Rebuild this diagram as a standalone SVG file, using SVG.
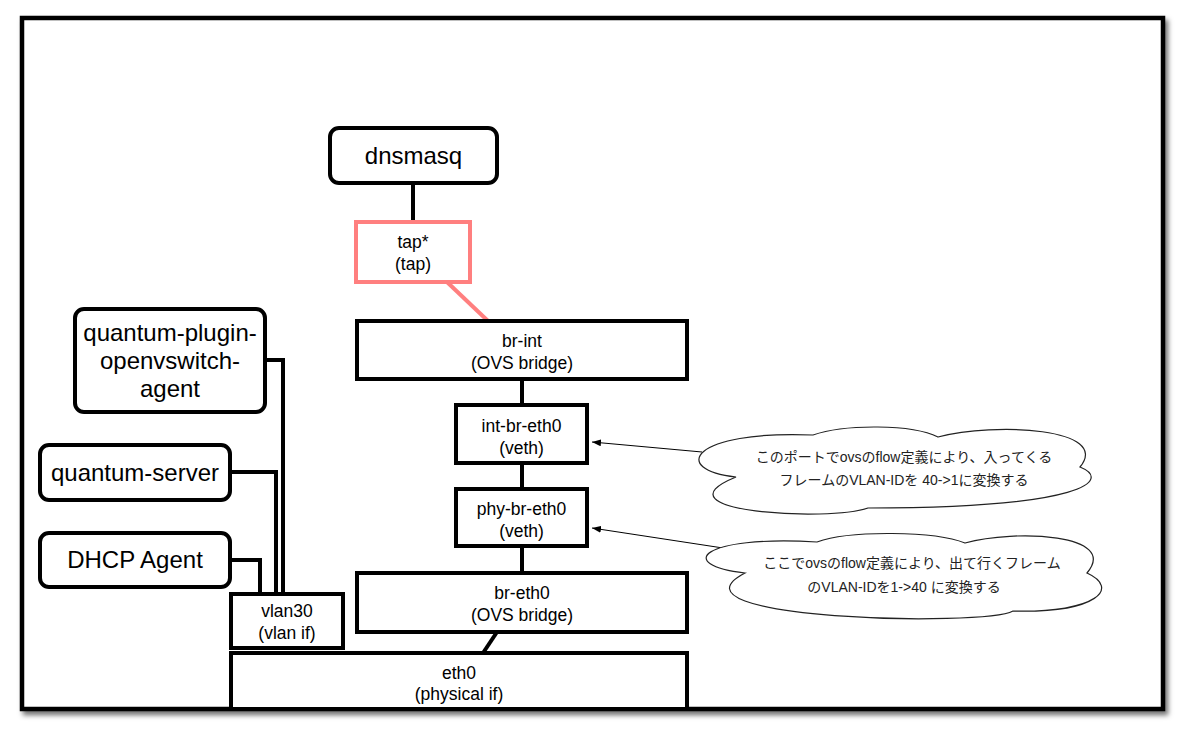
<svg xmlns="http://www.w3.org/2000/svg" width="1185" height="737" viewBox="0 0 1185 737">
<defs>
<filter id="shadow" x="-5%" y="-5%" width="110%" height="110%">
<feDropShadow dx="3" dy="4" stdDeviation="2.5" flood-color="#000" flood-opacity="0.55"/>
</filter>
<marker id="arrow" markerUnits="userSpaceOnUse" markerWidth="10" markerHeight="8" refX="9" refY="3.5" orient="auto">
<path d="M0,0 L9,3.5 L0,7 z" fill="#000"/>
</marker>
</defs>
<style>
.box{fill:#fff;stroke:#000;stroke-width:4}
.tap{fill:#fff;stroke:#ff7f7f;stroke-width:4}
.big{font-family:"Liberation Sans",Arial,sans-serif;font-size:24px;fill:#000;text-anchor:middle}
.sm{font-family:"Liberation Sans",Arial,sans-serif;font-size:17.5px;fill:#000;text-anchor:middle}
.jp{font-family:"Liberation Sans","Noto Sans CJK JP",sans-serif;font-size:14px;fill:#222;text-anchor:middle}
.conn{fill:none;stroke:#000;stroke-width:4}
.pink{fill:none;stroke:#ff7f7f;stroke-width:4}
.thin{fill:none;stroke:#000;stroke-width:1}
.cloud{fill:#fff;stroke:#222;stroke-width:1.2}
</style>
<rect x="22" y="18" width="1141" height="691" fill="#fff" stroke="#000" stroke-width="4.5" filter="url(#shadow)"/>
<g id="connectors">
<line class="conn" x1="413" y1="183" x2="413" y2="222"/>
<line class="pink" x1="447" y1="282" x2="488" y2="321"/>
<line class="conn" x1="522" y1="379" x2="522" y2="405"/>
<line class="conn" x1="522" y1="463" x2="522" y2="489"/>
<line class="conn" x1="522" y1="546" x2="522" y2="573"/>
<line class="conn" x1="497" y1="632" x2="483" y2="653"/>
<polyline class="conn" points="265,360 283,360 283,594"/>
<polyline class="conn" points="230,472 276,472 276,594"/>
<polyline class="conn" points="230,560 260,560 260,594"/>
<line class="thin" x1="702" y1="452" x2="592" y2="442" marker-end="url(#arrow)"/>
<line class="thin" x1="723" y1="548" x2="592" y2="528" marker-end="url(#arrow)"/>
</g>
<g id="dnsmasq">
<rect class="box" x="330" y="128" width="167" height="55" rx="9"/>
<text class="big" x="413.5" y="164">dnsmasq</text>
</g>
<g id="tap">
<rect class="tap" x="356" y="222" width="114" height="60"/>
<text class="sm" x="413" y="248">tap*</text>
<text class="sm" x="413" y="270">(tap)</text>
</g>
<g id="br-int">
<rect class="box" x="357" y="321" width="330" height="58"/>
<text class="sm" x="522" y="347">br-int</text>
<text class="sm" x="522" y="369">(OVS bridge)</text>
</g>
<g id="int-br-eth0">
<rect class="box" x="456" y="405" width="131" height="58"/>
<text class="sm" x="521.5" y="432">int-br-eth0</text>
<text class="sm" x="521.5" y="454">(veth)</text>
</g>
<g id="phy-br-eth0">
<rect class="box" x="456" y="489" width="131" height="57"/>
<text class="sm" x="521.5" y="515">phy-br-eth0</text>
<text class="sm" x="521.5" y="537">(veth)</text>
</g>
<g id="br-eth0">
<rect class="box" x="357" y="573" width="330" height="59"/>
<text class="sm" x="522" y="599">br-eth0</text>
<text class="sm" x="522" y="621">(OVS bridge)</text>
</g>
<g id="vlan30">
<rect class="box" x="231" y="594" width="112" height="54"/>
<text class="sm" x="287" y="617">vlan30</text>
<text class="sm" x="287" y="639">(vlan if)</text>
</g>
<g id="eth0">
<rect class="box" x="231" y="653" width="456" height="56"/>
<text class="sm" x="459" y="679">eth0</text>
<text class="sm" x="459" y="700">(physical if)</text>
</g>
<g id="quantum-plugin-openvswitch-agent">
<rect class="box" x="75" y="309" width="190" height="103" rx="9"/>
<text class="big" x="170" y="341">quantum-plugin-</text>
<text class="big" x="170" y="369">openvswitch-</text>
<text class="big" x="170" y="397">agent</text>
</g>
<g id="quantum-server">
<rect class="box" x="40" y="445" width="190" height="55" rx="9"/>
<text class="big" x="135" y="481">quantum-server</text>
</g>
<g id="dhcp-agent">
<rect class="box" x="40" y="533" width="190" height="54" rx="9"/>
<text class="big" x="135" y="568">DHCP Agent</text>
</g>
<g id="note1">
<path class="cloud" d="M736,477 C670,470 690,430 813,435 C845,424 912,424 938,437 C995,422 1112,428 1080,467 C1112,480 1085,508 868,508 C830,522 650,512 736,477 Z"/>
<text class="jp" x="904" y="462">このポートでovsのflow定義により、入ってくる</text>
<text class="jp" x="904" y="485">フレームのVLAN-IDを 40-&gt;1に変換する</text>
</g>
<g id="note2">
<path class="cloud" d="M745,573 C675,565 700,535 817,542 C850,530 935,531 965,543 C1015,529 1120,534 1087,573 C1120,588 1098,613 1013,611 C985,627 655,620 745,573 Z"/>
<text class="jp" x="912" y="568">ここでovsのflow定義により、出て行くフレーム</text>
<text class="jp" x="904" y="592">のVLAN-IDを1-&gt;40 に変換する</text>
</g>
</svg>
